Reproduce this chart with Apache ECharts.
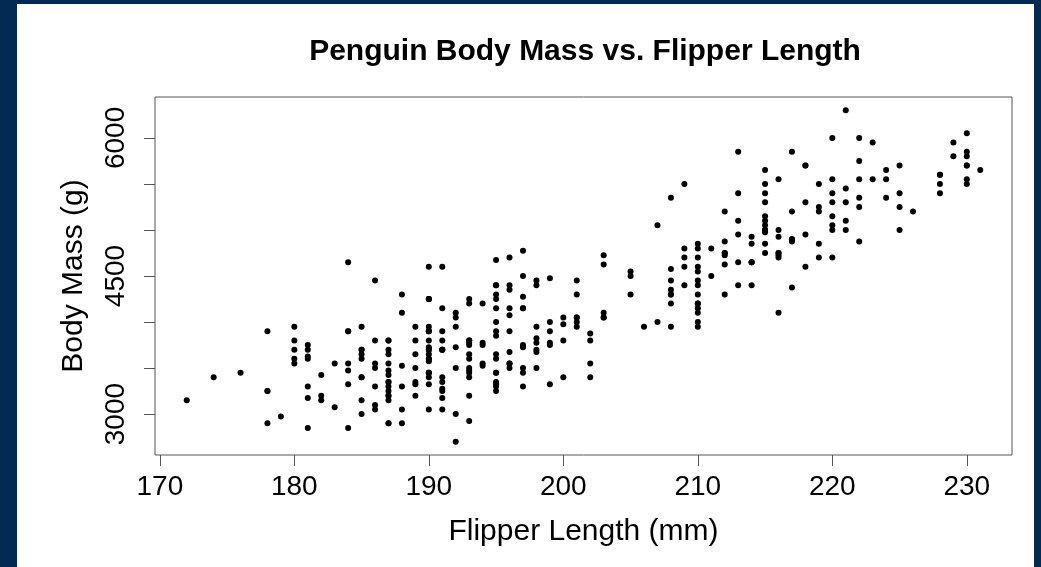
<!DOCTYPE html>
<html>
<head>
<meta charset="utf-8">
<title>Penguin Body Mass vs. Flipper Length</title>
<script src="https://cdn.jsdelivr.net/npm/echarts@6/dist/echarts.min.js"></script>
<style>
  html, body {
    margin: 0;
    padding: 0;
    width: 1041px;
    height: 567px;
    background: #022a52;
    overflow: hidden;
  }
  .panel {
    position: absolute;
    left: 17px;
    top: 4px;
    width: 1017px;
    height: 563px;
    background: #ffffff;
  }
  #chart {
    position: absolute;
    left: 0;
    top: 0;
    width: 1041px;
    height: 567px;
  }
</style>
</head>
<body>
<div class="panel"></div>
<div id="chart"></div>
<script>
// flipper length (mm), one entry per penguin
const flipperLength = [
  181, 186, 195, 193, 190, 181, 195, 193, 190, 186, 180, 182, 191, 198, 185, 195, 197, 184, 194,
  174, 180, 189, 185, 180, 187, 183, 187, 172, 180,
  178, 178, 188, 184, 195, 196, 190, 180, 181, 184, 182, 195, 186, 196, 185, 190, 182, 179, 190, 191,
  186, 188, 190, 200, 187, 191, 186, 193, 181, 194, 185, 195, 185, 192, 184, 192, 195, 188,
  190, 198, 190, 190, 196, 197, 190, 195, 191, 184, 187, 195, 189, 196, 187, 193,
  191, 194, 190, 189, 189, 190, 202, 205, 185, 186, 187, 208, 190, 196, 178, 192,
  192, 203, 183, 190, 193, 184, 199, 190, 181, 197, 198, 191, 193, 197, 191, 196,
  188, 199, 189, 189, 187, 198, 176, 202, 186, 199, 191, 195, 191, 210, 190, 197,
  193, 199, 187, 190, 191, 200, 185, 193, 193, 187, 188, 190, 192, 185, 190, 184, 195, 193, 187, 201,
  211, 230, 210, 218, 215, 210, 211, 219, 209, 215, 214, 216, 214, 213, 210, 217,
  210, 221, 209, 222, 218, 215, 213, 215, 215, 215, 216, 215, 210, 220, 222, 209,
  207, 230, 220, 220, 213, 219, 208, 208, 208, 225, 210, 216, 222, 217, 210, 225,
  213, 215, 210, 220, 210, 225, 217, 220, 208, 220, 208, 224, 208, 221, 214, 231,
  219, 230, 214, 229, 220, 223, 216, 221, 221, 217, 216, 230, 209, 220, 215, 223,
  212, 221, 212, 224, 212, 228, 218, 218, 212, 230, 218, 228, 212, 224, 214, 226,
  216, 222, 203, 225, 219, 228, 215, 228, 216, 215, 210, 219, 208, 209, 216, 229,
  213, 230, 217, 230, 217, 222, 214, 215, 222, 212, 213,
  192, 196, 193, 188, 197, 198, 178, 197, 195, 198, 193, 194, 185, 201, 190, 201,
  197, 181, 190, 195, 181, 191, 187, 193, 195, 197, 200, 200, 191, 205, 187, 201,
  187, 203, 195, 199, 195, 210, 192, 205, 210, 187, 196, 196, 196, 201, 190, 212,
  187, 198, 199, 201, 193, 203, 187, 197, 191, 203, 202, 194, 206, 189, 195, 207,
  202, 193, 210, 198
]

// body mass (g), same order as flipperLength
const bodyMass = [
  3750, 3800, 3250, 3450, 3650, 3625, 4675, 3475, 4250, 3300, 3700, 3200, 3800, 4400, 3700, 3450, 4500, 3325, 4200,
  3400, 3600, 3800, 3950, 3800, 3800, 3550, 3200, 3150, 3950,
  3250, 3900, 3300, 3900, 3325, 4150, 3950, 3550, 3300, 4650, 3150, 3900, 3100, 4400, 3000, 4600, 3425, 2975, 3450, 4150,
  3500, 4300, 3450, 4050, 2900, 3700, 3550, 3800, 2850, 3750, 3150, 4400, 3600, 4050, 2850, 3950, 3350, 4100,
  3050, 4450, 3600, 3900, 3550, 4150, 3700, 4250, 3700, 3900, 3550, 4000, 3200, 4700, 3800, 4200,
  3350, 3550, 3800, 3500, 3950, 3600, 3550, 4300, 3400, 4450, 3300, 4300, 3700, 4350, 2900, 4100,
  3725, 4725, 3075, 4250, 2925, 3550, 3750, 3900, 3175, 4775, 3825, 4600, 3200, 4275, 3900, 4075,
  2900, 3775, 3350, 3325, 3150, 3500, 3450, 3875, 3050, 4000, 3275, 4300, 3050, 4000, 3325, 3500,
  3500, 4475, 3425, 3900, 3175, 3975, 3400, 4250, 3400, 3475, 3050, 3725, 3000, 3650, 4250, 3475, 3450, 3750, 3700, 4000,
  4500, 5700, 4450, 5700, 5400, 4550, 4800, 5200, 4400, 5150, 4650, 5550, 4650, 5850, 4200, 5850,
  4150, 6300, 4800, 5350, 5700, 5000, 4400, 5050, 5000, 5100, 4100, 5650, 4600, 5550, 5250, 4700,
  5050, 6050, 5150, 5400, 4950, 5250, 4350, 5350, 3950, 5700, 4300, 4750, 5550, 4900, 4200, 5400,
  5100, 5300, 4850, 5300, 4400, 5000, 4900, 5050, 4300, 5000, 4450, 5550, 4200, 5300, 4400, 5650,
  4700, 5700, 4650, 5800, 4700, 5550, 4750, 5000, 5100, 5200, 4700, 5800, 4600, 6000, 4750, 5950,
  4625, 5450, 4725, 5350, 4750, 5600, 4600, 5300, 4875, 5550, 4950, 5400, 4750, 5650, 4850, 5200,
  4925, 4875, 4625, 5250, 4850, 5600, 4975, 5500, 4725, 5500, 4700, 5500, 4575, 5500, 5000, 5950,
  4650, 5500, 4375, 5850, 4875, 6000, 4925, 4850, 5750, 5200, 5400,
  3500, 3900, 3650, 3525, 3725, 3950, 3250, 3750, 4150, 3700, 3800, 3775, 3700, 4050, 3575, 4050,
  3300, 3700, 3450, 4400, 3600, 3400, 2900, 3800, 3300, 4150, 3400, 3800, 3700, 4550, 3200, 4300,
  3350, 4100, 3600, 3900, 3850, 4800, 2700, 4500, 3950, 3650, 3550, 3500, 3675, 4450, 3400, 4300,
  3250, 3675, 3325, 3950, 3600, 4050, 3350, 3450, 3250, 4050, 3800, 3525, 3950, 3650, 3650, 4000,
  3400, 3775, 4100, 3775
]

const xTicks = [170, 180, 190, 200, 210, 220, 230]
const yTicks = [3000, 3500, 4000, 4500, 5000, 5500, 6000]
const yLabels = [3000, 4500, 6000]

const font = 'Liberation Sans, Arial, sans-serif'
const axisGray = '#555555'

const chart = echarts.init(document.getElementById('chart'))

const points = flipperLength.map((x, i) => [x, bodyMass[i]])

chart.setOption({
  backgroundColor: 'transparent',
  animation: false,
  title: {
    text: 'Penguin Body Mass vs. Flipper Length',
    left: 580,
    textAlign: 'center',
    top: 32,
    textStyle: {
      fontFamily: font,
      fontSize: 30,
      fontWeight: 'bold',
      color: '#000'
    }
  },
  grid: {
    left: 155,
    top: 97,
    width: 857,
    height: 358,
    show: true,
    borderColor: axisGray,
    borderWidth: 1,
    backgroundColor: 'transparent'
  },
  xAxis: {
    type: 'value',
    min: 169.64,
    max: 233.36,
    name: 'Flipper Length (mm)',
    nameLocation: 'middle',
    nameGap: 62,
    nameTextStyle: { fontFamily: font, fontSize: 30, color: '#000' },
    splitLine: { show: false },
    axisLine: { show: false },
    axisTick: {
      show: true,
      inside: false,
      length: 11,
      customValues: xTicks,
      lineStyle: { color: axisGray }
    },
    axisLabel: {
      customValues: xTicks,
      margin: 18,
      fontFamily: font,
      fontSize: 28,
      color: '#000'
    }
  },
  yAxis: {
    type: 'value',
    min: 2556,
    max: 6444,
    name: 'Body Mass (g)',
    nameLocation: 'middle',
    nameGap: 66,
    nameTextStyle: { fontFamily: font, fontSize: 30, color: '#000' },
    splitLine: { show: false },
    axisLine: { show: false },
    axisTick: {
      show: true,
      inside: false,
      length: 11,
      customValues: yTicks,
      lineStyle: { color: axisGray }
    },
    axisLabel: {
      customValues: yLabels,
      formatter: (v) => String(v),
      rotate: 90,
      margin: 25,
      fontFamily: font,
      fontSize: 28,
      color: '#000'
    }
  },
  series: [
    {
      type: 'scatter',
      data: points,
      symbol: 'circle',
      symbolSize: 6,
      itemStyle: { color: '#000', opacity: 1 }
    }
  ]
})
</script>
</body>
</html>
